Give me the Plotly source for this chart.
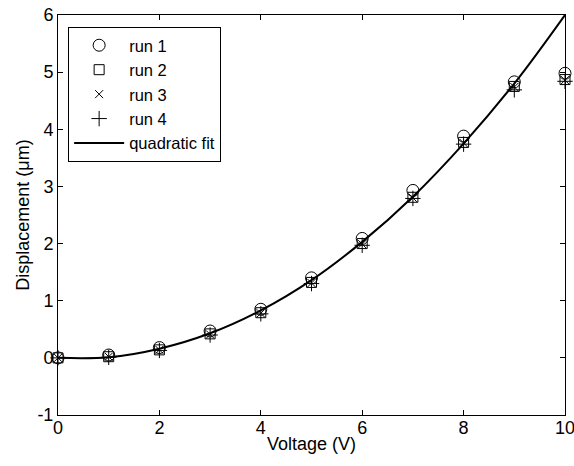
import plotly.graph_objects as go

voltage = [0, 1, 2, 3, 4, 5, 6, 7, 8, 9, 10]
run1 = [0.0, 0.05, 0.18, 0.47, 0.85, 1.40, 2.09, 2.93, 3.88, 4.83, 4.98]
run2 = [0.0, 0.02, 0.14, 0.42, 0.79, 1.32, 2.00, 2.81, 3.77, 4.75, 4.87]
run3 = [0.0, 0.02, 0.14, 0.41, 0.78, 1.31, 1.99, 2.80, 3.76, 4.74, 4.86]
run4 = [0.0, 0.01, 0.13, 0.40, 0.77, 1.30, 1.97, 2.79, 3.74, 4.69, 4.84]
fit_y = [0.0, 0.01, 0.16, 0.43, 0.83, 1.36, 2.03, 2.82, 3.75, 4.80, 6.0]

x_ticks = [0, 2, 4, 6, 8, 10]
x_ticklabels = ["0", "2", "4", "6", "8", "10"]
y_ticks = [-1, 0, 1, 2, 3, 4, 5, 6]
y_ticklabels = ["-1", "0", "1", "2", "3", "4", "5", "6"]

FONT = "Liberation Sans, Arial, sans-serif"
FS = 18

fig = go.Figure()
fig.add_trace(go.Scatter(x=voltage, y=run1, mode="markers", name="run 1", cliponaxis=False,
                         marker=dict(symbol="circle-open", size=12, color="black", line=dict(width=1))))
fig.add_trace(go.Scatter(x=voltage, y=run2, mode="markers", name="run 2", cliponaxis=False,
                         marker=dict(symbol="square-open", size=10, color="black", line=dict(width=1))))
fig.add_trace(go.Scatter(x=voltage, y=run3, mode="markers", name="run 3", cliponaxis=False,
                         marker=dict(symbol="x-thin-open", size=8, color="black", line=dict(width=1))))
fig.add_trace(go.Scatter(x=voltage, y=run4, mode="markers", name="run 4", cliponaxis=False,
                         marker=dict(symbol="cross-thin-open", size=11, color="black", line=dict(width=1))))
fig.add_trace(go.Scatter(x=voltage, y=fit_y, mode="lines", name="quadratic fit",
                         line=dict(color="black", width=2, shape="spline")))

axis_common = dict(
    showgrid=False, zeroline=False, showline=True, linecolor="black", linewidth=1,
    mirror="ticks", ticks="inside", ticklen=5, tickcolor="black", tickwidth=1,
    tickfont=dict(family=FONT, size=FS, color="black"), automargin=False,
    ticklabeloverflow="allow",
)

fig.update_layout(
    template="none",
    width=574, height=466,
    margin=dict(l=58, r=9, t=15, b=51),
    paper_bgcolor="white", plot_bgcolor="white",
    font=dict(family=FONT, size=FS, color="black"),
    xaxis=dict(range=[0, 10], tickvals=x_ticks, ticktext=x_ticklabels,
               ticklabelstandoff=-4,
               title=dict(text="Voltage (V)", standoff=0,
                          font=dict(family=FONT, size=FS, color="black")),
               **axis_common),
    yaxis=dict(range=[-1, 6], tickvals=y_ticks, ticktext=y_ticklabels,
               title=dict(text="Displacement (μm)", standoff=3,
                          font=dict(family=FONT, size=FS, color="black")),
               **axis_common),
    legend=dict(x=0.02, y=0.97, xanchor="left", yanchor="top",
                bgcolor="white", bordercolor="black", borderwidth=1,
                font=dict(family=FONT, size=16.5, color="black"),
                tracegroupgap=0, itemwidth=50),
    showlegend=True,
)

# remove the browser's default 8px body margin so the figure fills the window
fig.write_html("out.html", config={"displayModeBar": False},
               post_script="document.body.style.margin='0px';")
